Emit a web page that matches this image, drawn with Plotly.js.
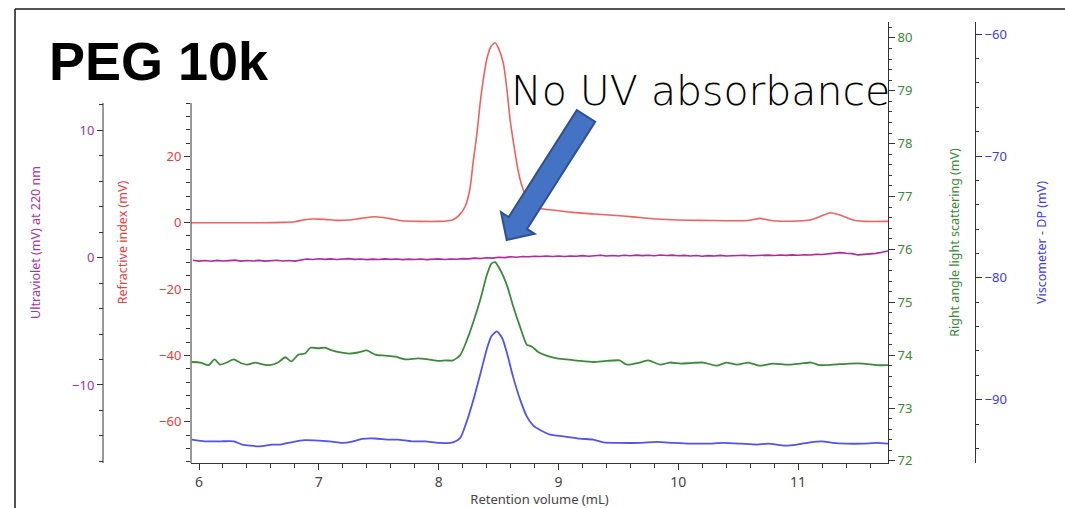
<!DOCTYPE html>
<html>
<head>
<meta charset="utf-8">
<script src="https://cdn.plot.ly/plotly-3.0.1.min.js"></script>
<style>html,body{margin:0;padding:0;background:#fff;}#chart{width:1065px;height:508px;}</style>
</head>
<body>
<div id="chart"></div>
<script>
// ---- Data (retention volume in mL, signals in mV) ----
const riX = [5.93,6.2,6.5,6.7,6.80,6.88,6.95,7.05,7.15,7.25,7.35,7.47,7.58,7.69,7.85,8.00,8.08,8.12,8.17,8.22,8.26,8.29,8.32,8.346,8.37,8.40,8.435,8.47,8.50,8.54,8.57,8.596,8.625,8.652,8.68,8.707,8.735,8.763,8.80,8.846,8.95,9.12,9.3,9.54,9.7,9.82,10.0,10.18,10.4,10.55,10.62,10.68,10.74,10.82,11.0,11.10,11.18,11.27,11.36,11.46,11.55,11.75];
const riY = [0.0,0.0,0.0,0.1,0.3,0.9,1.1,1.0,0.7,0.8,1.3,1.8,1.3,0.6,0.4,0.4,0.6,0.9,2.2,4.8,10,18.9,27,36,42.5,49,53,54.2,52.5,48,40,31,24,17.9,13,9.8,7.3,5.8,4.8,4.3,3.8,3.1,2.6,2.0,1.5,1.1,0.8,0.7,0.6,0.6,0.9,1.3,0.9,0.5,0.5,0.8,1.8,3.0,2.2,0.8,0.4,0.4];

const uvX = [5.95,6.00,6.05,6.10,6.15,6.20,6.25,6.30,6.35,6.40,6.45,6.50,6.55,6.60,6.65,6.70,6.75,6.80,6.85,6.90,6.95,7.00,7.05,7.10,7.15,7.20,7.25,7.30,7.35,7.40,7.45,7.50,7.55,7.60,7.65,7.70,7.75,7.80,7.85,7.90,7.95,8.00,8.05,8.10,8.15,8.20,8.25,8.30,8.35,8.40,8.45,8.50,8.55,8.60,8.65,8.70,8.75,8.80,8.85,8.90,8.95,9.00,9.05,9.10,9.15,9.20,9.25,9.30,9.35,9.40,9.45,9.50,9.55,9.60,9.65,9.70,9.75,9.80,9.85,9.90,9.95,10.00,10.05,10.10,10.15,10.20,10.25,10.30,10.35,10.40,10.45,10.50,10.55,10.60,10.65,10.70,10.75,10.80,10.85,10.90,10.95,11.00,11.05,11.10,11.15,11.20,11.25,11.30,11.35,11.40,11.45,11.50,11.55,11.60,11.65,11.70,11.75];
const uvY = [-0.20,-0.27,-0.22,-0.28,-0.21,-0.26,-0.23,-0.19,-0.27,-0.22,-0.26,-0.21,-0.27,-0.23,-0.20,-0.26,-0.22,-0.27,-0.21,-0.10,-0.14,-0.08,-0.13,-0.09,-0.14,-0.10,-0.07,-0.13,-0.10,-0.15,-0.11,-0.14,-0.09,-0.13,-0.10,-0.15,-0.11,-0.14,-0.10,-0.15,-0.12,-0.09,-0.14,-0.10,-0.12,-0.07,-0.09,-0.03,-0.06,0.00,-0.03,0.04,0.01,0.07,0.04,0.10,0.07,0.12,0.09,0.14,0.10,0.13,0.09,0.14,0.11,0.16,0.12,0.15,0.19,0.13,0.17,0.14,0.19,0.15,0.20,0.16,0.19,0.15,0.21,0.17,0.20,0.15,0.18,0.13,0.17,0.12,0.16,0.14,0.18,0.13,0.17,0.15,0.19,0.15,0.18,0.16,0.20,0.17,0.21,0.18,0.22,0.19,0.23,0.21,0.26,0.25,0.31,0.36,0.40,0.35,0.32,0.22,0.25,0.29,0.34,0.43,0.53];

const lsX = [5.94,6.01,6.08,6.13,6.175,6.23,6.29,6.34,6.40,6.47,6.54,6.59,6.66,6.72,6.77,6.83,6.885,6.93,7.00,7.05,7.11,7.18,7.25,7.33,7.40,7.47,7.55,7.64,7.72,7.83,7.91,8.00,8.06,8.12,8.18,8.23,8.29,8.35,8.40,8.44,8.47,8.51,8.57,8.62,8.68,8.735,8.78,8.83,8.90,8.99,9.07,9.18,9.29,9.40,9.51,9.57,9.68,9.75,9.85,9.93,10.02,10.10,10.21,10.32,10.40,10.49,10.585,10.68,10.79,10.91,11.02,11.11,11.18,11.29,11.43,11.54,11.66,11.75];
const lsY = [73.87,73.86,73.81,73.92,73.82,73.86,73.92,73.86,73.82,73.86,73.82,73.81,73.86,73.96,73.88,74.01,74.03,74.14,74.13,74.14,74.09,74.05,74.03,74.05,74.09,74.01,73.99,73.97,73.92,73.94,73.92,73.89,73.90,73.90,74.00,74.25,74.63,75.07,75.50,75.73,75.76,75.63,75.32,74.94,74.53,74.20,74.16,74.06,73.99,73.94,73.92,73.89,73.87,73.89,73.90,73.82,73.86,73.90,73.82,73.86,73.84,73.85,73.86,73.80,73.86,73.82,73.86,73.80,73.84,73.82,73.84,73.86,73.81,73.82,73.84,73.84,73.81,73.81];

const dpX = [5.94,6.05,6.18,6.29,6.36,6.50,6.61,6.68,6.77,6.885,7.00,7.11,7.19,7.28,7.36,7.47,7.58,7.66,7.775,7.89,8.00,8.12,8.18,8.23,8.29,8.35,8.40,8.44,8.485,8.53,8.57,8.62,8.68,8.735,8.79,8.85,8.93,9.04,9.18,9.29,9.375,9.51,9.68,9.82,9.96,10.10,10.24,10.38,10.52,10.655,10.75,10.89,10.99,11.10,11.20,11.29,11.40,11.54,11.66,11.75];
const dpY = [-93.28,-93.42,-93.42,-93.42,-93.69,-93.83,-93.69,-93.69,-93.50,-93.33,-93.37,-93.45,-93.55,-93.45,-93.22,-93.19,-93.28,-93.28,-93.42,-93.42,-93.55,-93.50,-93.14,-91.91,-90.0,-87.81,-85.9,-84.8,-84.40,-84.94,-86.17,-88.09,-90.0,-91.37,-92.13,-92.51,-92.87,-93.01,-93.20,-93.28,-93.50,-93.55,-93.55,-93.47,-93.55,-93.61,-93.61,-93.55,-93.61,-93.69,-93.61,-93.77,-93.69,-93.50,-93.42,-93.55,-93.61,-93.61,-93.55,-93.61];

const xTickVals = [6,7,8,9,10,11];
const riTickVals = [-60,-40,-20,0,20];
const uvTickVals = [-10,0,10];

// ---- Geometry helpers (page pixels -> paper coords) ----
const W = 1065, H = 508, ML = 10, MR = 10, MT = 22, MB = 45;
const PW = W - ML - MR, PH = H - MT - MB;
const px = v => (v - ML) / PW;
const py = v => (H - MB - v) / PH;

function seq(a, b, s) { const o = []; for (let v = a; v <= b + 1e-9; v += s) o.push(+v.toFixed(4)); return o; }

const cRed = '#f0605e', cPur = '#b02a9c', cGrn = '#3d8a3d', cBlu = '#5252ee';
const axCol = '#333333';
const tickFont = (c) => ({family: 'Noto Sans, sans-serif', size: 13, color: c});
const titleFont = (c) => ({family: 'Noto Sans, sans-serif', size: 12.5, color: c});

const traces = [
  {x: riX, y: riY, yaxis: 'y', type: 'scatter', mode: 'lines', line: {color: cRed, width: 1.6, shape: 'spline', smoothing: 0.6}, name: 'Refractive index'},
  {x: uvX, y: uvY, yaxis: 'y2', type: 'scatter', mode: 'lines', line: {color: cPur, width: 1.6}, name: 'Ultraviolet'},
  {x: lsX, y: lsY, yaxis: 'y3', type: 'scatter', mode: 'lines', line: {color: cGrn, width: 1.8, shape: 'spline', smoothing: 0.6}, name: 'RALS'},
  {x: dpX, y: dpY, yaxis: 'y4', type: 'scatter', mode: 'lines', line: {color: cBlu, width: 1.8, shape: 'spline', smoothing: 0.6}, name: 'Viscometer'}
];

// arrow (page pixel outline)
const arrowPts = [[576.8,110.1],[595.2,121.9],[527,228.9],[534.6,233.8],[506.7,240],[501,212.2],[508.6,217.1]];
const arrowPath = 'M ' + arrowPts.map(p => px(p[0]).toFixed(5) + ',' + py(p[1]).toFixed(5)).join(' L ') + ' Z';

const layout = {
  width: W, height: H,
  margin: {l: ML, r: MR, t: MT, b: MB, pad: 0},
  paper_bgcolor: '#ffffff', plot_bgcolor: '#ffffff',
  showlegend: false,
  font: {family: 'Noto Sans, sans-serif'},
  xaxis: {
    domain: [px(191), px(888)], range: [5.933, 11.75],
    showline: true, linecolor: axCol, linewidth: 1, showgrid: false, zeroline: false,
    ticks: 'outside', ticklen: 6, tickcolor: axCol, tickvals: xTickVals,
    minor: {dtick: 0.2, tick0: 6, ticks: 'outside', ticklen: 4, tickcolor: axCol},
    tickfont: {family: 'Noto Sans, sans-serif', size: 14, color: '#444'},
    title: {text: 'Retention volume (mL)', font: {family: 'Noto Sans, sans-serif', size: 13, color: '#444'}, standoff: 14}
  },
  yaxis: {
    range: [-72.38, 60.45], anchor: 'x', side: 'left',
    showline: false, showgrid: false, zeroline: false,
    ticks: 'outside', ticklen: 6, tickcolor: axCol, tickvals: riTickVals,
    minor: {tickvals: seq(-72, 36, 4), ticks: 'outside', ticklen: 4, tickcolor: axCol},
    tickfont: tickFont('#ee3b3b'),
    title: {text: 'Refractive index (mV)', font: titleFont('#ee3b3b'), standoff: 28}
  },
  yaxis2: {
    range: [-16.13, 18.52], overlaying: 'y', anchor: 'free', position: px(103), side: 'left',
    showline: false, showgrid: false, zeroline: false,
    ticks: 'outside', ticklen: 6, tickcolor: axCol, tickvals: uvTickVals,
    minor: {tickvals: seq(-16, 12, 2), ticks: 'outside', ticklen: 4, tickcolor: axCol},
    tickfont: tickFont('#a035a0'),
    title: {text: 'Ultraviolet (mV) at 220 nm', font: titleFont('#a035a0'), standoff: 27}
  },
  yaxis3: {
    range: [71.96, 80.3], overlaying: 'y', anchor: 'x', side: 'right',
    showline: true, linecolor: axCol, linewidth: 1, showgrid: false, zeroline: false,
    ticks: 'outside', ticklen: 6, tickcolor: axCol, dtick: 1, tick0: 72,
    minor: {dtick: 0.2, tick0: 72, ticks: 'outside', ticklen: 3, tickcolor: axCol},
    tickfont: tickFont('#3a873a'),
    title: {text: 'Right angle light scattering (mV)', font: titleFont('#3a873a'), standoff: 38}
  },
  yaxis4: {
    range: [-95.2, -59.0], overlaying: 'y', anchor: 'free', position: px(975), side: 'right',
    showline: true, linecolor: axCol, linewidth: 1, showgrid: false, zeroline: false,
    ticks: 'outside', ticklen: 6, tickcolor: axCol, dtick: 10, tick0: -90,
    minor: {dtick: 2, tick0: -90, ticks: 'outside', ticklen: 3, tickcolor: axCol},
    tickfont: tickFont('#3c3cdc'),
    title: {text: 'Viscometer - DP (mV)', font: titleFont('#3c3cdc'), standoff: 31}
  },
  shapes: [
    // partial axis lines for the left axes
    {type: 'line', xref: 'paper', yref: 'paper', x0: px(191), x1: px(191), y0: py(463), y1: py(103), line: {color: axCol, width: 1}},
    {type: 'line', xref: 'paper', yref: 'paper', x0: px(103), x1: px(103), y0: py(463), y1: py(103), line: {color: axCol, width: 1}},
    // slide border
    {type: 'line', xref: 'paper', yref: 'paper', x0: px(15), x1: px(1065), y0: py(9), y1: py(9), line: {color: '#1a1a1a', width: 1.5}},
    {type: 'line', xref: 'paper', yref: 'paper', x0: px(15), x1: px(15), y0: py(9), y1: py(508), line: {color: '#1a1a1a', width: 1.5}},
    // block arrow
    {type: 'path', xref: 'paper', yref: 'paper', path: arrowPath, fillcolor: '#4472c4', line: {color: '#2f528f', width: 2}}
  ],
  annotations: [
    {text: 'PEG 10k', xref: 'paper', yref: 'paper', x: px(47), y: py(61), xanchor: 'left', yanchor: 'middle', showarrow: false,
     font: {family: 'Liberation Sans, Arial, sans-serif', size: 54, color: '#000', weight: 700}},
    {text: 'No UV absorbance', xref: 'paper', yref: 'paper', x: px(509), y: py(91), xanchor: 'left', yanchor: 'middle', showarrow: false,
     font: {family: 'DejaVu Sans, sans-serif', size: 41, color: '#000', weight: 300}}
  ]
};

Plotly.newPlot('chart', traces, layout, {displayModeBar: false, staticPlot: true});
</script>
</body>
</html>
